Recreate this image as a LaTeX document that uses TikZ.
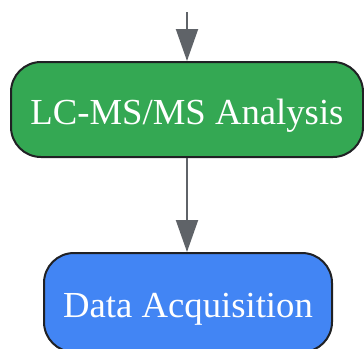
\documentclass[tikz,border=0pt]{standalone}
\usepackage{fontspec}
\setmainfont{Liberation Serif}
\usetikzlibrary{arrows.meta}
\definecolor{stepgreen}{HTML}{34A853}
\definecolor{stepblue}{HTML}{4285F4}
\definecolor{arrowgray}{HTML}{5F6368}
\definecolor{edgedark}{HTML}{202124}
\tikzstyle{arrow} = [line width=2pt,draw=arrowgray,-{Triangle[length=32pt,width=22pt]}]
\tikzstyle{analysisbox} = [rectangle, rounded corners=30pt, minimum width=352pt, minimum height=95pt, inner sep=0pt, text height=30pt, text depth=0pt, text centered, line width=2pt, draw=edgedark, fill=stepgreen, text=white, font=\fontsize{36.7}{44}\selectfont]
\tikzstyle{acquisitionbox} = [rectangle, rounded corners=30pt, minimum width=288pt, minimum height=99pt, inner sep=0pt, text height=30pt, text depth=0pt, text centered, line width=2pt, draw=edgedark, fill=stepblue, text=white, font=\fontsize{36.7}{44}\selectfont]
\begin{document}
\begin{tikzpicture}[x=1pt, y=-1pt, node distance=193pt]
\useasboundingbox (0,0) rectangle (364,348);

\node (lcms) [analysisbox] at (187,109.5) {LC-MS/MS Analysis};
\node (acq) [acquisitionbox, below of=lcms, xshift=1pt] {Data Acquisition};

\node[coordinate] (in_lcms) [above of=lcms, node distance=97.5pt] {};

\draw [arrow] (in_lcms) -- (lcms);
\draw [arrow] (lcms.south) -- (lcms.south |- acq.north);

\end{tikzpicture}
\end{document}
